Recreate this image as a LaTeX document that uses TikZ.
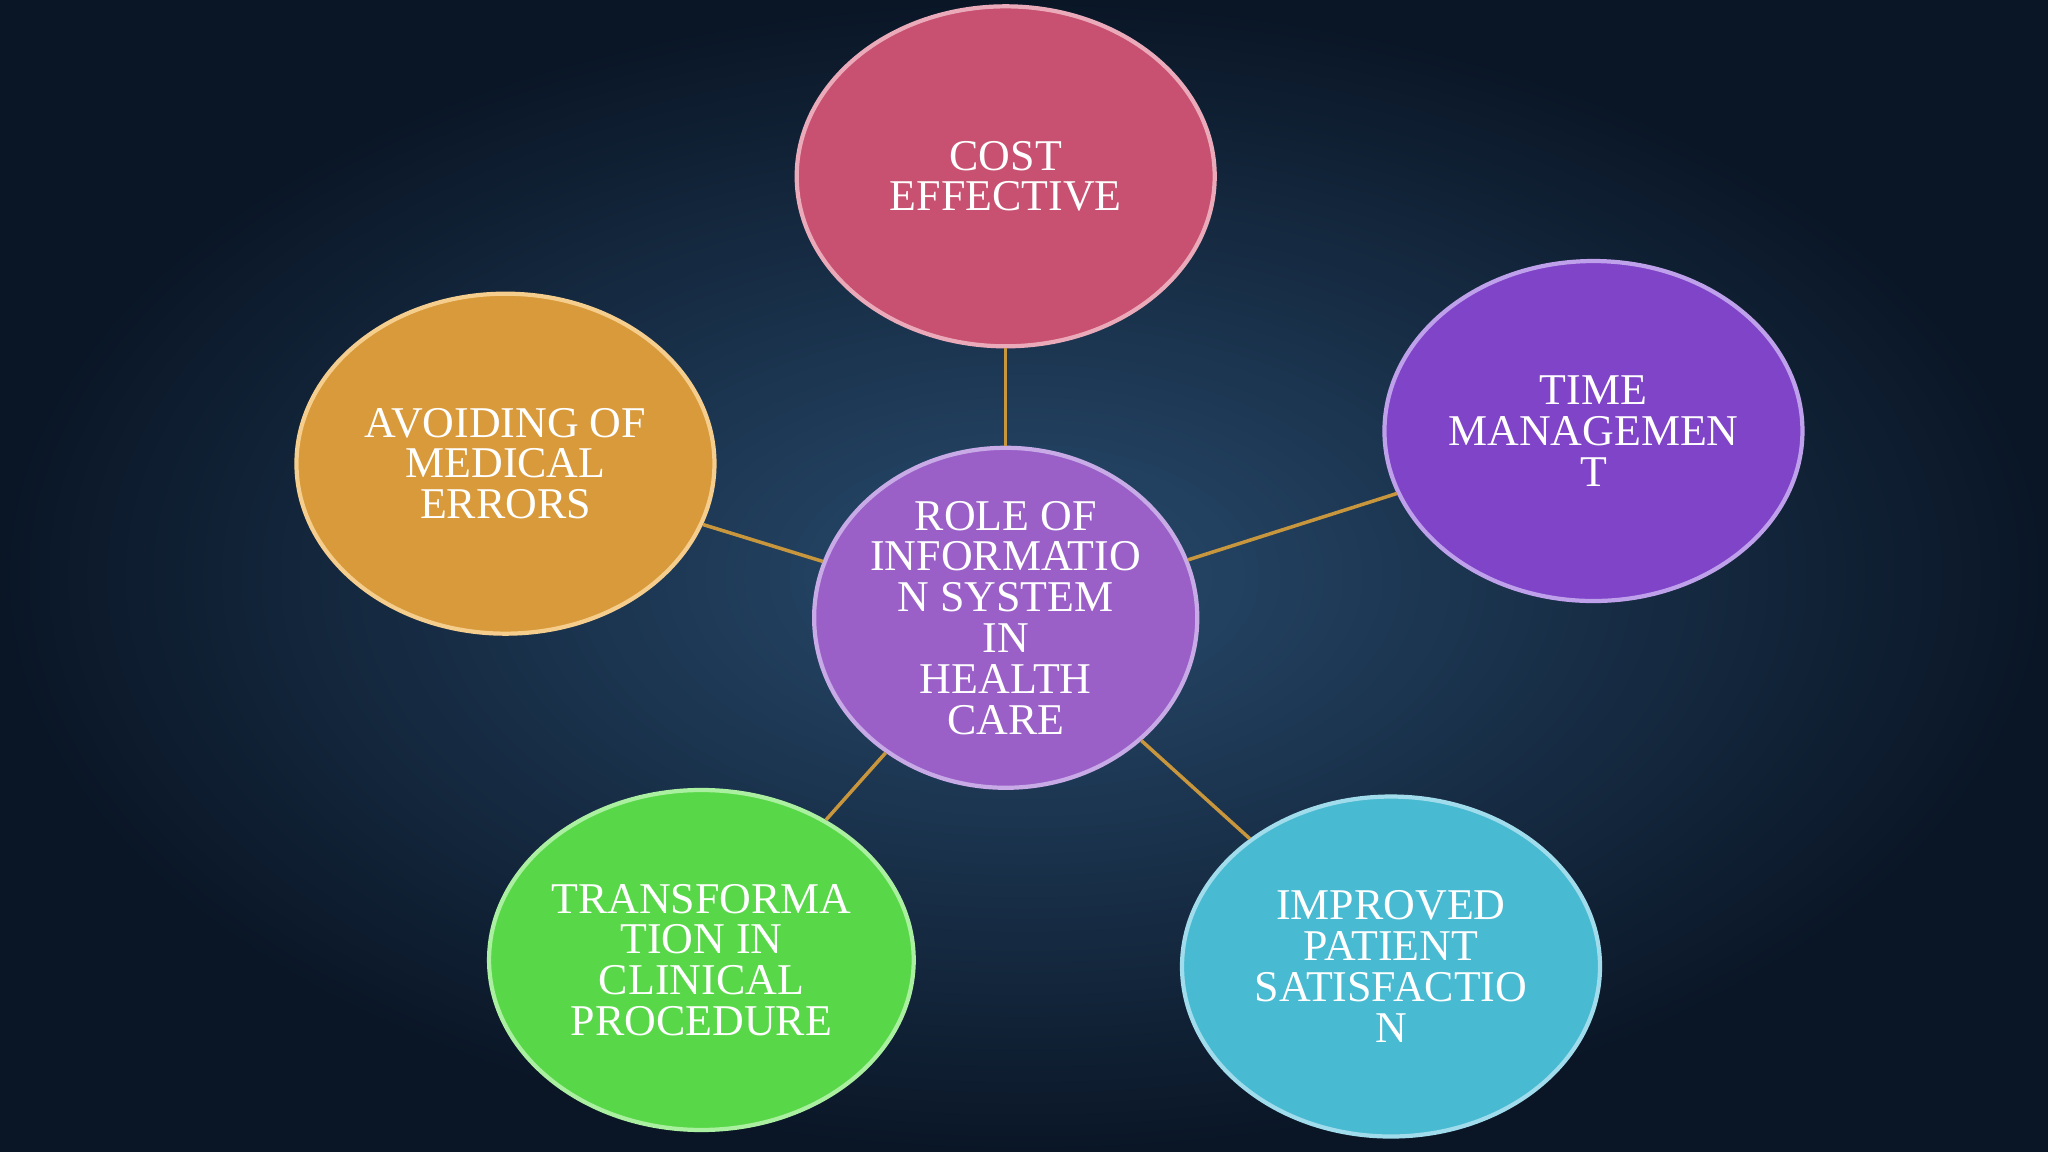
\documentclass[tikz,border=0pt]{standalone}
\usepackage{fontspec}
\setmainfont{Liberation Serif}
\begin{document}
\begin{tikzpicture}[x=0.013061cm,y=-0.013061cm,
  bub/.style={ellipse,minimum width=320\pgfkeysvalueof{/pgf/x}*0+4.18cm,minimum height=3.40cm,inner sep=0pt,align=center,text=white,font=\fontsize{12.5}{11.6}\selectfont,line width=1.2pt},
  link/.style={draw=orange!60!brown!90!white,line width=1pt}]
\useasboundingbox (0,0) rectangle (1568,882);
\shade[inner color={rgb,255:red,40;green,75;blue,110},outer color={rgb,255:red,10;green,22;blue,38}] (0,0) rectangle (1568,882);
\tikzset{bub/.style={ellipse,minimum width=4.18cm,minimum height=3.40cm,inner sep=0pt,align=center,text=white,font=\fontsize{12.5}{11.6}\selectfont,line width=1.2pt}}
\usetikzlibrary{shapes.geometric}
\node[bub,fill={rgb,255:red,200;green,80;blue,112},draw={rgb,255:red,235;green,170;blue,185}] (cost) at (770,135) {COST\\EFFECTIVE};
\node[bub,fill={rgb,255:red,128;green,68;blue,200},draw={rgb,255:red,190;green,160;blue,235}] (time) at (1220,330) {TIME\\MANAGEMEN\\T};
\node[bub,fill={rgb,255:red,216;green,154;blue,58},draw={rgb,255:red,245;green,205;blue,140}] (avoid) at (387,355) {AVOIDING OF\\MEDICAL\\ERRORS};
\node[bub,fill={rgb,255:red,88;green,216;blue,72},draw={rgb,255:red,170;green,240;blue,160}] (trans) at (537,735) {TRANSFORMA\\TION IN\\CLINICAL\\PROCEDURE};
\node[bub,fill={rgb,255:red,72;green,186;blue,210},draw={rgb,255:red,160;green,220;blue,235}] (impr) at (1065,740) {IMPROVED\\PATIENT\\SATISFACTIO\\N};
\node[bub,minimum width=3.40cm,minimum height=3.40cm,fill={rgb,255:red,154;green,96;blue,200},draw={rgb,255:red,200;green,170;blue,230}] (core) at (770,473) {ROLE OF\\INFORMATIO\\N SYSTEM\\IN\\HEALTH\\CARE};
\draw[link,draw={rgb,255:red,200;green,150;blue,60}] (core) -- (cost);
\draw[link,draw={rgb,255:red,200;green,150;blue,60}] (core) -- (time);
\draw[link,draw={rgb,255:red,200;green,150;blue,60}] (core) -- (avoid);
\draw[link,draw={rgb,255:red,200;green,150;blue,60}] (core) -- (trans);
\draw[link,draw={rgb,255:red,200;green,150;blue,60}] (core) -- (impr);
\end{tikzpicture}
\end{document}
